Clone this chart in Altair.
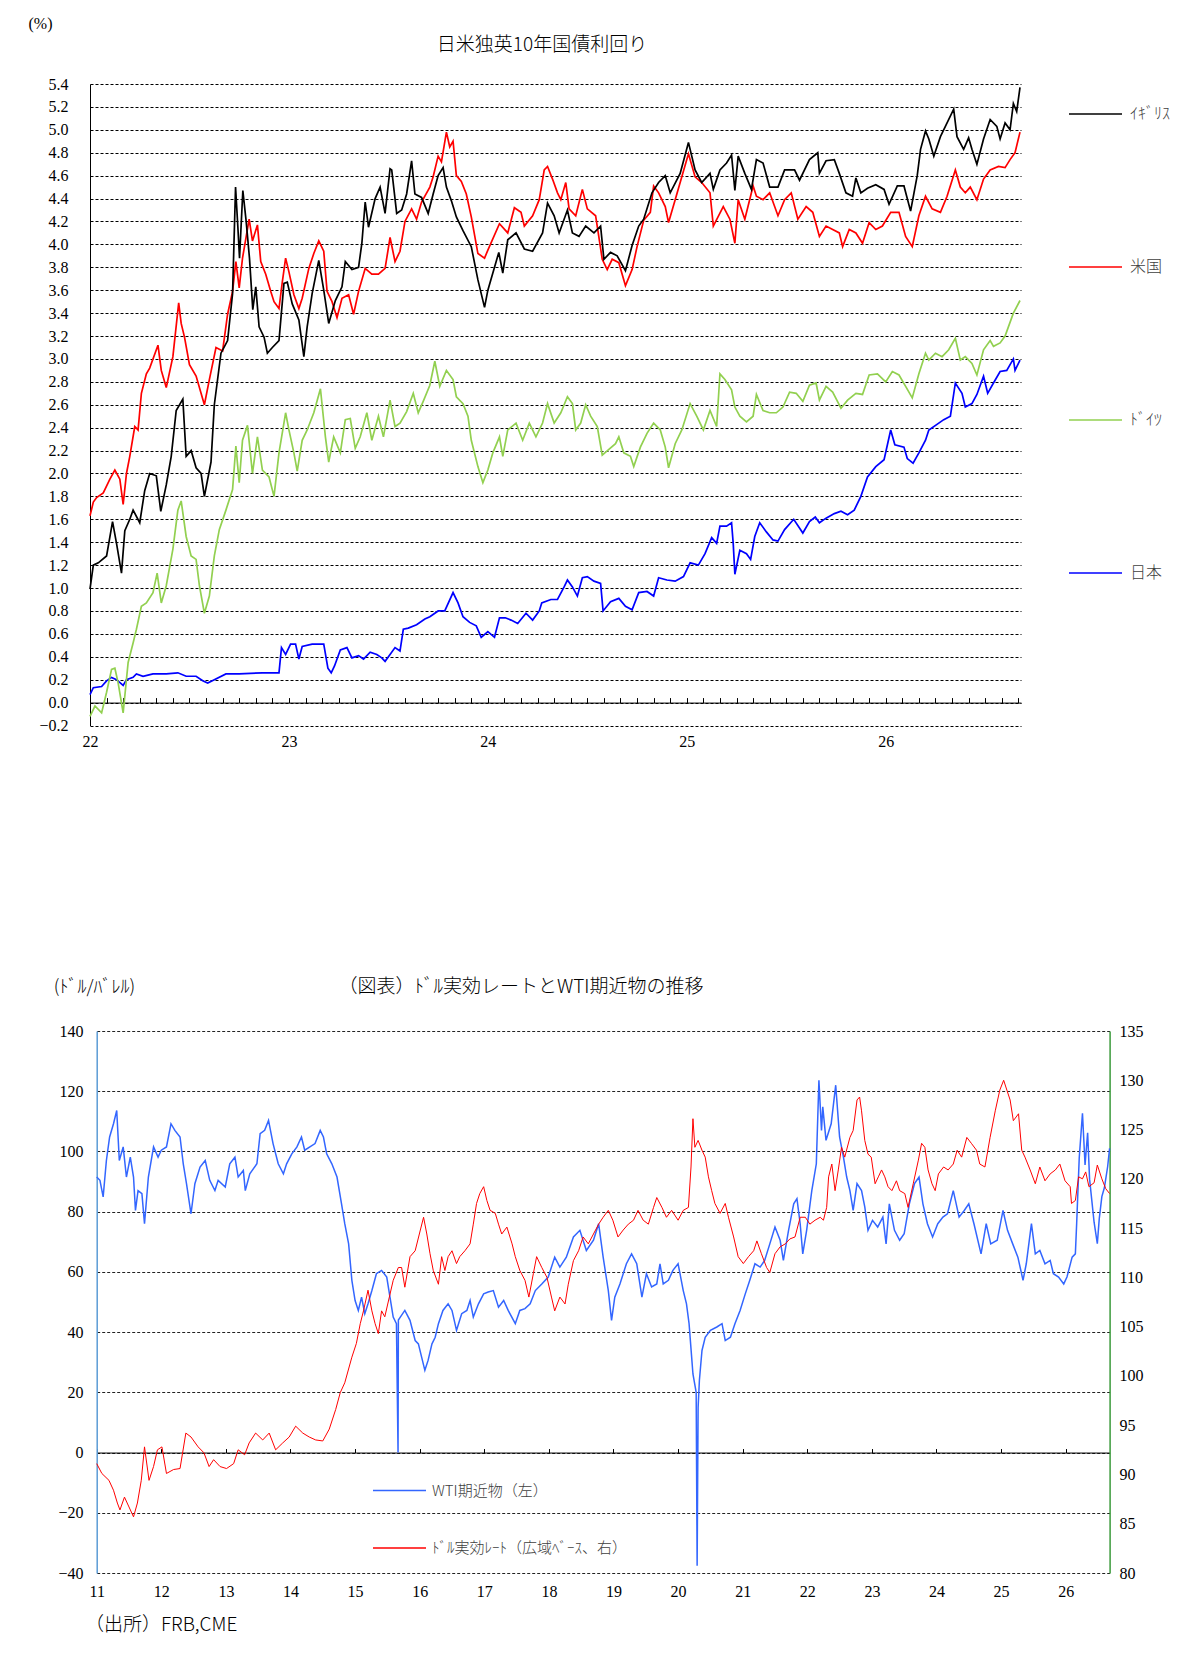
import altair as alt
import pandas as pd

# 10年国債利回り (%): (months since Jan-2022, yield)
uk = [(0.0, 0.99), (0.2, 1.2), (0.5, 1.22), (1.0, 1.28), (1.36, 1.58), (1.6, 1.39), (1.9, 1.13), (2.1, 1.5),
      (2.4, 1.6), (2.6, 1.68), (3.0, 1.57), (3.3, 1.85), (3.6, 2.0), (4.0, 1.98), (4.27, 1.67), (4.6, 1.9),
      (4.9, 2.15), (5.2, 2.55), (5.6, 2.65), (5.8, 2.15), (6.1, 2.2), (6.4, 2.05), (6.7, 2.0), (6.9, 1.8),
      (7.3, 2.1), (7.5, 2.6), (7.9, 3.05), (8.3, 3.16), (8.6, 3.57), (8.78, 4.5), (8.92, 4.15), (9.02, 3.88),
      (9.22, 4.47), (9.42, 4.2), (9.62, 3.88), (9.82, 3.43), (10.0, 3.63), (10.2, 3.28), (10.5, 3.19),
      (10.7, 3.05), (11.0, 3.1), (11.4, 3.16), (11.7, 3.66), (11.9, 3.67), (12.2, 3.48), (12.6, 3.34),
      (12.9, 3.02), (13.1, 3.28), (13.4, 3.57), (13.8, 3.86), (14.1, 3.6), (14.4, 3.31), (14.8, 3.51),
      (15.2, 3.63), (15.4, 3.85), (15.8, 3.78), (16.2, 3.8), (16.4, 4.01), (16.6, 4.37), (16.8, 4.15),
      (17.2, 4.4), (17.5, 4.5), (17.8, 4.27), (18.1, 4.66), (18.2, 4.65), (18.5, 4.27), (18.8, 4.3),
      (19.1, 4.44), (19.4, 4.73), (19.6, 4.44), (20.0, 4.41), (20.4, 4.27), (20.7, 4.44), (21.0, 4.6),
      (21.3, 4.67), (21.5, 4.5), (21.8, 4.38), (22.1, 4.24), (22.5, 4.12), (23.0, 3.98), (23.4, 3.69),
      (23.8, 3.45), (24.0, 3.6), (24.66, 3.93), (24.9, 3.75), (25.2, 4.04), (25.7, 4.1), (26.2, 3.96),
      (26.7, 3.94), (27.3, 4.1), (27.6, 4.36), (28.0, 4.25), (28.3, 4.1), (28.8, 4.3), (29.1, 4.1),
      (29.5, 4.07), (29.9, 4.16), (30.4, 4.1), (30.8, 4.16), (31.0, 3.87), (31.4, 3.93), (31.8, 3.9),
      (32.3, 3.77), (32.7, 3.99), (33.1, 4.16), (33.4, 4.22), (33.9, 4.45), (34.3, 4.54), (34.7, 4.6),
      (35.0, 4.45), (35.6, 4.62), (36.1, 4.89), (36.5, 4.65), (36.9, 4.54), (37.4, 4.62), (37.6, 4.48),
      (38.0, 4.65), (38.4, 4.71), (38.7, 4.78), (38.9, 4.47), (39.1, 4.77), (39.5, 4.62), (39.9, 4.48),
      (40.2, 4.74), (40.6, 4.71), (41.0, 4.5), (41.5, 4.5), (41.9, 4.65), (42.5, 4.65), (42.8, 4.56),
      (43.4, 4.74), (43.9, 4.8), (44.0, 4.62), (44.4, 4.73), (44.9, 4.74), (45.2, 4.62), (45.6, 4.45),
      (46.0, 4.42), (46.2, 4.58), (46.5, 4.45), (46.9, 4.49), (47.4, 4.52), (47.9, 4.48), (48.2, 4.35),
      (48.7, 4.51), (49.1, 4.51), (49.5, 4.29), (49.9, 4.6), (50.1, 4.83), (50.4, 4.99), (50.6, 4.92),
      (50.9, 4.77), (51.3, 4.94), (51.7, 5.06), (52.1, 5.18), (52.3, 4.94), (52.7, 4.83), (53.0, 4.93),
      (53.2, 4.83), (53.5, 4.7), (53.9, 4.92), (54.3, 5.09), (54.7, 5.03), (54.9, 4.92), (55.2, 5.06),
      (55.5, 5.0), (55.7, 5.23), (55.9, 5.16), (56.1, 5.37)]

us = [(0.0, 1.63), (0.2, 1.75), (0.4, 1.79), (0.8, 1.83), (1.2, 1.95), (1.5, 2.03), (1.8, 1.95), (2.0, 1.73),
      (2.2, 2.0), (2.4, 2.15), (2.7, 2.41), (2.9, 2.38), (3.1, 2.7), (3.4, 2.87), (3.6, 2.92), (4.1, 3.12),
      (4.3, 2.9), (4.6, 2.75), (5.0, 3.02), (5.35, 3.49), (5.5, 3.31), (5.7, 3.19), (6.0, 2.95), (6.4, 2.85),
      (6.9, 2.6), (7.2, 2.82), (7.6, 3.1), (8.0, 3.07), (8.3, 3.39), (8.6, 3.59), (8.8, 3.85), (9.0, 3.62),
      (9.2, 3.88), (9.6, 4.22), (9.8, 4.03), (10.1, 4.17), (10.3, 3.85), (10.6, 3.74), (10.9, 3.59),
      (11.1, 3.5), (11.4, 3.44), (11.6, 3.67), (11.8, 3.88), (12.0, 3.76), (12.3, 3.56), (12.6, 3.44),
      (12.8, 3.53), (13.2, 3.79), (13.5, 3.92), (13.8, 4.03), (14.1, 3.94), (14.3, 3.59), (14.6, 3.5),
      (14.9, 3.36), (15.2, 3.53), (15.6, 3.56), (15.9, 3.39), (16.2, 3.59), (16.6, 3.79), (17.0, 3.74),
      (17.4, 3.74), (17.8, 3.79), (18.1, 4.06), (18.4, 3.85), (18.7, 3.94), (19.0, 4.2), (19.4, 4.31),
      (19.7, 4.22), (20.0, 4.37), (20.5, 4.5), (20.7, 4.59), (21.0, 4.77), (21.2, 4.72), (21.5, 4.98),
      (21.7, 4.85), (21.9, 4.9), (22.1, 4.6), (22.4, 4.55), (22.7, 4.44), (23.0, 4.24), (23.4, 3.92),
      (23.8, 3.88), (24.0, 3.95), (24.7, 4.18), (25.2, 4.1), (25.6, 4.32), (26.0, 4.28), (26.2, 4.16),
      (26.7, 4.25), (27.1, 4.39), (27.4, 4.65), (27.6, 4.68), (27.9, 4.57), (28.2, 4.45), (28.4, 4.39),
      (28.7, 4.54), (28.9, 4.31), (29.3, 4.25), (29.7, 4.48), (30.0, 4.31), (30.5, 4.25), (30.9, 3.87),
      (31.2, 3.78), (31.5, 3.87), (31.9, 3.84), (32.3, 3.64), (32.7, 3.78), (33.0, 3.98), (33.4, 4.21),
      (33.8, 4.28), (34.0, 4.51), (34.3, 4.45), (34.7, 4.33), (34.9, 4.19), (35.3, 4.39), (35.7, 4.59),
      (36.1, 4.79), (36.5, 4.59), (36.9, 4.54), (37.4, 4.45), (37.6, 4.16), (38.2, 4.33), (38.6, 4.22),
      (38.9, 4.01), (39.1, 4.39), (39.5, 4.22), (40.0, 4.51), (40.2, 4.42), (40.6, 4.39), (41.0, 4.45),
      (41.5, 4.25), (41.9, 4.39), (42.3, 4.45), (42.7, 4.22), (43.2, 4.33), (43.6, 4.28), (44.0, 4.07),
      (44.4, 4.16), (44.8, 4.13), (45.2, 4.1), (45.4, 3.98), (45.8, 4.13), (46.2, 4.1), (46.6, 4.01),
      (47.0, 4.19), (47.4, 4.13), (47.8, 4.16), (48.3, 4.28), (48.8, 4.28), (49.2, 4.07), (49.6, 3.98),
      (50.0, 4.25), (50.4, 4.42), (50.8, 4.31), (51.3, 4.28), (51.7, 4.42), (52.2, 4.65), (52.5, 4.5),
      (52.8, 4.45), (53.1, 4.5), (53.5, 4.39), (53.9, 4.57), (54.3, 4.65), (54.8, 4.68), (55.2, 4.67),
      (55.5, 4.74), (55.8, 4.8), (56.1, 4.98)]

de = [(0.0, -0.12), (0.3, -0.03), (0.7, -0.09), (1.0, 0.09), (1.3, 0.29), (1.5, 0.3), (1.7, 0.17), (2.0, -0.09),
      (2.3, 0.35), (2.6, 0.52), (2.8, 0.64), (3.1, 0.84), (3.4, 0.87), (3.8, 0.96), (4.05, 1.13), (4.3, 0.87),
      (4.6, 1.02), (5.0, 1.34), (5.3, 1.68), (5.5, 1.76), (5.8, 1.45), (6.1, 1.28), (6.4, 1.25), (6.6, 1.02),
      (6.9, 0.78), (7.2, 0.93), (7.5, 1.28), (7.8, 1.51), (8.2, 1.68), (8.6, 1.86), (8.8, 2.24), (9.0, 1.92),
      (9.2, 2.29), (9.5, 2.42), (9.8, 2.0), (10.1, 2.32), (10.4, 2.03), (10.8, 1.97), (11.1, 1.8), (11.4, 2.18),
      (11.8, 2.53), (12.0, 2.38), (12.3, 2.18), (12.5, 2.02), (12.8, 2.29), (13.1, 2.38), (13.5, 2.53),
      (13.9, 2.74), (14.2, 2.32), (14.4, 2.1), (14.7, 2.32), (15.1, 2.18), (15.4, 2.47), (15.7, 2.48),
      (16.0, 2.22), (16.3, 2.32), (16.7, 2.53), (17.0, 2.29), (17.4, 2.5), (17.7, 2.32), (18.1, 2.64),
      (18.4, 2.41), (18.7, 2.44), (19.1, 2.54), (19.5, 2.7), (19.8, 2.53), (20.1, 2.63), (20.5, 2.77),
      (20.8, 2.98), (21.1, 2.76), (21.5, 2.9), (21.9, 2.82), (22.1, 2.67), (22.5, 2.61), (22.8, 2.5),
      (23.0, 2.29), (23.4, 2.06), (23.7, 1.92), (24.0, 2.03), (24.3, 2.18), (24.7, 2.32), (24.9, 2.15),
      (25.2, 2.38), (25.7, 2.44), (26.1, 2.29), (26.5, 2.44), (26.9, 2.32), (27.3, 2.44), (27.6, 2.61),
      (28.0, 2.44), (28.4, 2.53), (28.8, 2.67), (29.1, 2.61), (29.3, 2.38), (29.6, 2.44), (29.9, 2.6),
      (30.2, 2.5), (30.6, 2.41), (30.9, 2.16), (31.3, 2.21), (31.7, 2.26), (31.9, 2.32), (32.2, 2.18),
      (32.6, 2.15), (32.8, 2.06), (33.2, 2.23), (33.6, 2.35), (34.0, 2.44), (34.4, 2.38), (34.7, 2.23),
      (34.9, 2.05), (35.3, 2.26), (35.7, 2.38), (36.2, 2.61), (36.6, 2.5), (37.0, 2.38), (37.4, 2.55),
      (37.8, 2.41), (38.0, 2.87), (38.3, 2.82), (38.7, 2.73), (38.9, 2.58), (39.2, 2.5), (39.6, 2.45),
      (40.0, 2.5), (40.2, 2.69), (40.6, 2.55), (41.0, 2.53), (41.4, 2.53), (41.8, 2.58), (42.2, 2.71),
      (42.6, 2.7), (43.0, 2.63), (43.4, 2.77), (43.8, 2.79), (44.0, 2.64), (44.4, 2.76), (44.8, 2.71),
      (45.3, 2.57), (45.7, 2.64), (46.2, 2.7), (46.6, 2.69), (47.0, 2.86), (47.5, 2.87), (48.0, 2.8),
      (48.4, 2.89), (48.8, 2.86), (49.2, 2.76), (49.6, 2.66), (50.0, 2.87), (50.4, 3.05), (50.6, 2.99),
      (51.0, 3.05), (51.4, 3.02), (51.8, 3.08), (52.2, 3.18), (52.5, 2.99), (52.8, 3.02), (53.2, 2.96),
      (53.5, 2.86), (53.9, 3.08), (54.3, 3.16), (54.5, 3.11), (54.9, 3.14), (55.2, 3.2), (55.4, 3.28),
      (55.7, 3.4), (56.1, 3.51)]

jp = [(0.0, 0.07), (0.2, 0.13), (0.7, 0.14), (1.0, 0.19), (1.3, 0.22), (1.6, 0.2), (2.0, 0.15), (2.2, 0.2),
      (2.6, 0.22), (2.8, 0.25), (3.2, 0.23), (3.8, 0.25), (4.6, 0.25), (5.3, 0.26), (5.8, 0.23), (6.4, 0.23),
      (6.8, 0.19), (7.1, 0.17), (7.5, 0.2), (8.2, 0.25), (9.0, 0.25), (10.4, 0.26), (11.4, 0.26), (11.55, 0.48),
      (11.8, 0.42), (12.1, 0.51), (12.4, 0.51), (12.6, 0.38), (12.8, 0.49), (13.4, 0.51), (14.1, 0.51),
      (14.35, 0.3), (14.55, 0.26), (14.75, 0.32), (15.1, 0.46), (15.5, 0.48), (15.8, 0.39), (16.2, 0.41),
      (16.5, 0.38), (16.9, 0.44), (17.3, 0.42), (17.6, 0.39), (17.8, 0.36), (18.1, 0.42), (18.4, 0.48),
      (18.7, 0.45), (18.9, 0.64), (19.2, 0.65), (19.7, 0.68), (20.2, 0.73), (20.5, 0.75), (21.0, 0.8),
      (21.4, 0.8), (21.9, 0.96), (22.2, 0.87), (22.5, 0.75), (22.9, 0.7), (23.3, 0.67), (23.6, 0.57),
      (24.0, 0.62), (24.4, 0.57), (24.7, 0.74), (25.05, 0.74), (25.4, 0.72), (25.8, 0.69), (26.3, 0.78),
      (26.7, 0.72), (27.1, 0.8), (27.25, 0.87), (27.8, 0.9), (28.2, 0.9), (28.6, 1.01), (28.8, 1.07),
      (29.1, 1.01), (29.4, 0.93), (29.7, 1.09), (30.0, 1.1), (30.4, 1.06), (30.8, 1.04), (30.95, 0.8),
      (31.4, 0.88), (31.9, 0.91), (32.3, 0.84), (32.7, 0.81), (33.1, 0.96), (33.6, 0.97), (34.0, 0.93),
      (34.3, 1.09), (34.8, 1.07), (35.3, 1.06), (35.8, 1.1), (36.2, 1.22), (36.7, 1.2), (37.1, 1.3),
      (37.5, 1.44), (37.8, 1.39), (38.0, 1.54), (38.4, 1.54), (38.7, 1.57), (38.8, 1.39), (38.9, 1.12),
      (39.2, 1.33), (39.6, 1.3), (39.85, 1.25), (40.1, 1.45), (40.4, 1.57), (40.8, 1.49), (41.2, 1.42),
      (41.5, 1.41), (41.9, 1.51), (42.45, 1.6), (43.0, 1.48), (43.4, 1.58), (43.75, 1.62), (44.0, 1.57),
      (44.4, 1.61), (44.9, 1.65), (45.3, 1.67), (45.7, 1.64), (46.1, 1.68), (46.5, 1.8), (46.9, 1.97),
      (47.4, 2.06), (47.9, 2.12), (48.3, 2.38), (48.55, 2.25), (49.1, 2.23), (49.3, 2.13), (49.65, 2.09),
      (50.0, 2.18), (50.4, 2.29), (50.6, 2.38), (51.2, 2.44), (51.5, 2.47), (51.9, 2.5), (52.2, 2.79),
      (52.6, 2.7), (52.8, 2.58), (53.2, 2.61), (53.5, 2.69), (53.9, 2.85), (54.15, 2.7), (54.5, 2.79),
      (54.9, 2.89), (55.3, 2.9), (55.7, 3.0), (55.8, 2.9), (56.1, 2.99)]

# WTI期近物 ($/bbl): (year, price)
wti = [(2011.0, 91.5), (2011.05, 90.4), (2011.1, 84.9), (2011.15, 97), (2011.2, 104.8), (2011.26, 109.2),
       (2011.31, 113.6), (2011.35, 97), (2011.41, 101.5), (2011.46, 91.5), (2011.52, 98.1), (2011.57, 91.5),
       (2011.6, 80.4), (2011.64, 87), (2011.7, 86), (2011.74, 76), (2011.8, 91.5), (2011.88, 101.5),
       (2011.95, 98.1), (2012.0, 100.4), (2012.08, 101.5), (2012.15, 109.2), (2012.21, 107), (2012.29, 104.8),
       (2012.34, 95.9), (2012.39, 89.3), (2012.46, 79.3), (2012.52, 89.3), (2012.6, 94.8), (2012.68, 97),
       (2012.75, 90.4), (2012.83, 87), (2012.88, 90.4), (2012.99, 88.2), (2013.06, 95.9), (2013.14, 98.1),
       (2013.19, 91.5), (2013.27, 93.7), (2013.3, 87), (2013.37, 92.6), (2013.48, 95.9), (2013.53, 105.9),
       (2013.6, 107), (2013.66, 110.3), (2013.73, 102.6), (2013.81, 95.9), (2013.89, 92.6), (2013.94, 95.9),
       (2014.02, 99.2), (2014.1, 101.5), (2014.17, 104.8), (2014.22, 100.4), (2014.3, 101.5), (2014.38, 102.6),
       (2014.46, 107), (2014.51, 104.8), (2014.56, 99.2), (2014.64, 95.9), (2014.72, 91.5), (2014.79, 82.6),
       (2014.84, 76), (2014.9, 69.3), (2014.95, 57.2), (2015.0, 50.5), (2015.05, 47.2), (2015.1, 51.6),
       (2015.15, 46.1), (2015.2, 49.4), (2015.26, 53.8), (2015.33, 59.4), (2015.41, 60.5), (2015.49, 58.3),
       (2015.54, 51.6), (2015.59, 45), (2015.64, 42.8), (2015.665, 0), (2015.67, 44), (2015.7, 45),
       (2015.77, 47.2), (2015.85, 43.9), (2015.93, 37.2), (2015.98, 36.1), (2016.03, 31.7), (2016.08, 27.3),
       (2016.13, 30.6), (2016.19, 36.1), (2016.24, 38.3), (2016.29, 42.8), (2016.36, 47.2), (2016.44, 49.4),
       (2016.5, 47.2), (2016.57, 40.6), (2016.65, 46.1), (2016.73, 47.2), (2016.78, 50.5), (2016.83, 45),
       (2016.91, 49.4), (2016.99, 52.7), (2017.06, 53.3), (2017.14, 53.8), (2017.22, 48.3), (2017.3, 50.5),
       (2017.37, 47.2), (2017.48, 42.8), (2017.55, 47.2), (2017.63, 47.8), (2017.71, 49.4), (2017.79, 53.8),
       (2017.89, 56), (2017.99, 58.3), (2018.09, 64.9), (2018.17, 61.6), (2018.27, 64.9), (2018.38, 71.6),
       (2018.48, 73.8), (2018.58, 67.1), (2018.69, 70.5), (2018.77, 76), (2018.84, 64.9), (2018.92, 53.8),
       (2018.97, 43.9), (2019.02, 51.6), (2019.1, 56), (2019.2, 62.7), (2019.28, 66), (2019.36, 62.7),
       (2019.44, 51.6), (2019.51, 59.4), (2019.59, 55), (2019.67, 56), (2019.72, 62.7), (2019.77, 56),
       (2019.85, 57.2), (2019.92, 60.5), (2020.0, 62.7), (2020.08, 53.8), (2020.13, 49.4), (2020.17, 42.8),
       (2020.21, 31.7), (2020.23, 26.1), (2020.28, 20), (2020.295, -37.6), (2020.31, 15), (2020.33, 24),
       (2020.37, 33.9), (2020.42, 38.3), (2020.5, 40.6), (2020.6, 41.7), (2020.68, 42.8), (2020.73, 37.2),
       (2020.81, 38.3), (2020.88, 42.8), (2020.96, 47.2), (2021.04, 52.7), (2021.11, 57.2), (2021.19, 62.7),
       (2021.27, 61.6), (2021.34, 63.8), (2021.42, 69.3), (2021.5, 74.9), (2021.58, 70.5), (2021.63, 63.8),
       (2021.71, 73.8), (2021.79, 82.6), (2021.84, 84.3), (2021.89, 76), (2021.93, 66), (2021.99, 73.8),
       (2022.07, 87), (2022.14, 95.9), (2022.18, 123.6), (2022.22, 107), (2022.24, 114.8), (2022.29, 103.7),
       (2022.37, 109.2), (2022.44, 122), (2022.5, 104.8), (2022.56, 98.1), (2022.61, 91.5), (2022.66, 87),
       (2022.71, 80.4), (2022.77, 89.3), (2022.84, 87), (2022.89, 81.6), (2022.94, 73.8), (2023.01, 77.1),
       (2023.09, 74.9), (2023.17, 78.2), (2023.22, 69.3), (2023.27, 82.6), (2023.35, 73.8), (2023.43, 70.5),
       (2023.5, 72.7), (2023.58, 82.6), (2023.66, 89.3), (2023.73, 91.5), (2023.79, 82.6), (2023.86, 76),
       (2023.94, 71.6), (2024.02, 76), (2024.1, 78.2), (2024.17, 79.3), (2024.26, 87), (2024.35, 78.2),
       (2024.43, 80.4), (2024.5, 82.6), (2024.58, 76), (2024.69, 66), (2024.77, 76), (2024.84, 69.3),
       (2024.94, 70.5), (2025.03, 80.4), (2025.1, 73.8), (2025.18, 69.3), (2025.26, 64.9), (2025.34, 57.2),
       (2025.39, 62.7), (2025.47, 76), (2025.53, 66), (2025.6, 67.1), (2025.68, 62.7), (2025.76, 63.8),
       (2025.81, 59.4), (2025.89, 58.3), (2025.97, 56), (2026.02, 58.3), (2026.1, 64.9), (2026.15, 66),
       (2026.17, 76), (2026.21, 97.9), (2026.26, 112.7), (2026.3, 95.5), (2026.34, 106.2), (2026.37, 90.8),
       (2026.44, 76.5), (2026.49, 69.4), (2026.52, 77.7), (2026.56, 85), (2026.6, 88), (2026.65, 95),
       (2026.68, 101)]

# ドル実効レート (広域ベース): (year, index)
usd = [(2011.0, 91.1), (2011.08, 90.1), (2011.19, 89.4), (2011.26, 88.4), (2011.32, 87.1), (2011.36, 86.4),
       (2011.43, 87.7), (2011.5, 86.7), (2011.57, 85.7), (2011.63, 87.1), (2011.69, 89.4), (2011.74, 92.8),
       (2011.81, 89.4), (2011.88, 90.8), (2011.94, 92.5), (2012.01, 92.8), (2012.08, 90.1), (2012.19, 90.5),
       (2012.29, 90.6), (2012.38, 94.2), (2012.46, 93.8), (2012.57, 92.8), (2012.66, 92.2), (2012.74, 90.8),
       (2012.81, 91.5), (2012.91, 90.8), (2013.01, 90.6), (2013.12, 91.1), (2013.19, 92.5), (2013.29, 92),
       (2013.36, 93.2), (2013.46, 94.2), (2013.57, 93.5), (2013.67, 94.2), (2013.77, 92.5), (2013.88, 93.2),
       (2013.98, 93.8), (2014.08, 94.9), (2014.19, 94.2), (2014.29, 93.8), (2014.39, 93.5), (2014.5, 93.4),
       (2014.6, 94.6), (2014.7, 96.6), (2014.77, 98.3), (2014.84, 99.3), (2014.95, 101.9), (2015.02, 103.3),
       (2015.08, 105.3), (2015.13, 106.6), (2015.2, 108.7), (2015.26, 106.6), (2015.31, 105.3), (2015.36, 104.3),
       (2015.41, 106.6), (2015.46, 106), (2015.53, 108), (2015.59, 109.7), (2015.67, 111), (2015.72, 111),
       (2015.77, 109), (2015.85, 112.1), (2015.93, 112.7), (2016.01, 114.8), (2016.06, 116.1), (2016.11, 114.4),
       (2016.16, 112.4), (2016.21, 110.7), (2016.29, 109.3), (2016.34, 112.1), (2016.39, 110.7), (2016.44, 112.1),
       (2016.5, 112.7), (2016.57, 111.4), (2016.62, 112.1), (2016.7, 112.7), (2016.78, 113.4), (2016.83, 115.4),
       (2016.88, 117.5), (2016.93, 118.5), (2016.99, 119.2), (2017.04, 117.8), (2017.09, 116.8), (2017.17, 116.5),
       (2017.22, 115.4), (2017.27, 114.4), (2017.35, 115.1), (2017.43, 113.4), (2017.48, 112.1), (2017.55, 110.7),
       (2017.63, 109.7), (2017.69, 108), (2017.76, 110.4), (2017.81, 112.1), (2017.89, 111), (2017.97, 110),
       (2018.04, 108), (2018.09, 106.6), (2018.17, 108), (2018.25, 107.3), (2018.3, 109.3), (2018.38, 111.7),
       (2018.46, 112.7), (2018.53, 114.1), (2018.61, 113.4), (2018.69, 114.4), (2018.77, 115.4), (2018.84, 116.1),
       (2018.92, 116.8), (2018.99, 115.8), (2019.07, 114.1), (2019.15, 114.8), (2019.23, 115.4), (2019.31, 115.8),
       (2019.38, 116.8), (2019.46, 115.8), (2019.54, 115.4), (2019.62, 117.1), (2019.67, 118.1), (2019.75, 117.1),
       (2019.82, 116.1), (2019.9, 116.8), (2020.0, 115.8), (2020.08, 116.8), (2020.16, 117.1), (2020.2, 121.2),
       (2020.23, 126.1), (2020.26, 123.2), (2020.31, 123.9), (2020.37, 122.9), (2020.42, 122.2), (2020.47, 120.2),
       (2020.52, 118.8), (2020.57, 117.5), (2020.65, 116.5), (2020.73, 117.5), (2020.78, 116.1), (2020.86, 114.1),
       (2020.93, 112.1), (2021.01, 111.4), (2021.09, 112.1), (2021.17, 112.7), (2021.22, 113.7), (2021.29, 112.4),
       (2021.37, 111), (2021.42, 110.5), (2021.5, 112.4), (2021.58, 113.1), (2021.66, 113.4), (2021.73, 113.9),
       (2021.81, 114.1), (2021.89, 116.1), (2021.97, 116.1), (2022.04, 115.4), (2022.12, 115.8), (2022.2, 116.1),
       (2022.25, 115.8), (2022.3, 117.1), (2022.33, 120.2), (2022.38, 121.5), (2022.43, 118.8), (2022.48, 120.9),
       (2022.53, 123.2), (2022.58, 122.2), (2022.66, 124.2), (2022.71, 124.9), (2022.77, 128), (2022.81, 128.3),
       (2022.84, 126.9), (2022.89, 123.9), (2022.94, 122.5), (2022.99, 122.2), (2023.05, 119.5), (2023.1, 120.2),
       (2023.15, 120.9), (2023.2, 120.2), (2023.25, 119.2), (2023.31, 118.8), (2023.38, 119.8), (2023.43, 118.8),
       (2023.51, 118.5), (2023.56, 117.1), (2023.64, 119.5), (2023.72, 121.9), (2023.77, 123.6), (2023.82, 123.2),
       (2023.87, 120.9), (2023.93, 119.5), (2023.98, 118.8), (2024.03, 120.5), (2024.11, 121.2), (2024.18, 120.9),
       (2024.26, 121.5), (2024.32, 122.9), (2024.39, 122.2), (2024.47, 124.2), (2024.54, 123.6), (2024.62, 122.9),
       (2024.67, 121.5), (2024.75, 121.2), (2024.83, 124.2), (2024.91, 126.9), (2024.98, 129), (2025.04, 130),
       (2025.09, 129), (2025.14, 128), (2025.19, 125.9), (2025.27, 126.6), (2025.32, 122.9), (2025.37, 122.2),
       (2025.45, 120.9), (2025.53, 119.5), (2025.6, 121.2), (2025.68, 119.8), (2025.76, 120.5), (2025.84, 120.9),
       (2025.91, 121.5), (2025.99, 119.8), (2026.07, 119.2), (2026.09, 117.5), (2026.15, 117.8), (2026.2, 120.2),
       (2026.26, 120), (2026.31, 120.7), (2026.36, 119.2), (2026.44, 119.6), (2026.49, 121.4), (2026.56, 120),
       (2026.62, 119), (2026.68, 118.5)]

bond_names = ["ｲｷﾞﾘｽ", "米国", "ﾄﾞｲﾂ", "日本"]
bond_colors = ["#000000", "#ff0000", "#92d050", "#0000ff"]
wti_name = "WTI期近物（左）"
usd_name = "ﾄﾞﾙ実効ﾚｰﾄ（広域ﾍﾞｰｽ、右）"

W, H = 1165, 1650
NUM = "Liberation Serif"
JP = "Noto Sans CJK JP"

rows = []
for name, series in reversed(list(zip(bond_names, [uk, us, de, jp]))):
    for m, v in series:
        rows.append({"name": name, "t": 2022 + m / 12, "v": v})
bonds = pd.DataFrame(rows)

oil_df = pd.DataFrame({"t": [p[0] for p in wti], "v": [p[1] for p in wti], "name": wti_name})
usd_df = pd.DataFrame({"t": [p[0] for p in usd], "v": [p[1] for p in usd], "name": usd_name})

# --- upper panel: 10y yields ---
top_x = alt.Scale(domain=[2022, 2026.68], range=[82, 1013], nice=False, zero=False)
top_y = alt.Scale(domain=[-0.2, 5.4], range=[717.5, 76], nice=False, zero=False)
top_zero = 717.5 - 0.2 * (717.5 - 76) / 5.6
month_ticks = [2022 + k / 12 for k in range(57)]
yield_ticks = [round(-0.2 + 0.2 * k, 1) for k in range(29)]

top = alt.Chart(bonds).mark_line().encode(
    x=alt.X("t:Q", scale=top_x, axis=alt.Axis(
        orient="bottom", offset=717.5 - H, values=[2022, 2023, 2024, 2025, 2026],
        labelExpr="substring(toString(datum.value), 2, 4)", domain=False, ticks=False, tickSize=0,
        grid=False, labelPadding=8, labelFlush=False, labelOverlap=False,
        labelFont=NUM, labelFontSize=16, labelColor="#000", title=None)),
    y=alt.Y("v:Q", scale=top_y, axis=alt.Axis(
        orient="left", offset=-82, values=yield_ticks, format=".1f",
        grid=True, gridColor="#000", gridDash=[3, 2], gridWidth=1, gridOpacity=1,
        domainColor="#000", domainWidth=1, ticks=False, tickSize=0, labelPadding=22,
        labelFont=NUM, labelFontSize=16, labelColor="#000", labelFlush=False, labelOverlap=False,
        title="(%)", titleAngle=0, titleX=-50, titleY=15, titleAlign="center", titleBaseline="middle",
        titleFont=NUM, titleFontSize=16, titleFontWeight="normal", titleColor="#000")),
    color=alt.Color("name:N", scale=alt.Scale(domain=bond_names, range=bond_colors), legend=alt.Legend(
        orient="none", legendX=1060, legendY=78.5, title=None, symbolType="stroke", symbolSize=2809,
        symbolStrokeWidth=1.5, rowPadding=117, labelOffset=7, padding=0,
        labelFont=JP, labelFontSize=16, labelFontWeight=300, labelColor="#404040", labelLimit=300)),
    strokeWidth=alt.StrokeWidth("name:N", scale=alt.Scale(domain=bond_names, range=[1.7, 1.7, 1.4, 1.2]),
                                legend=None),
)

top_zero_axis = alt.Chart(bonds).mark_point(opacity=0).encode(
    x=alt.X("t:Q", scale=top_x, axis=alt.Axis(
        orient="top", offset=-top_zero, values=month_ticks, labels=False, tickSize=5,
        tickColor="#000", domainColor="#000", domainWidth=1, grid=False, title=None)),
    y=alt.Y("v:Q", scale=top_y, axis=None),
)

# --- lower panel: WTI and dollar ---
bot_x = alt.Scale(domain=[2011, 2026.68], range=[88.7, 1101.6], nice=False, zero=False)
left_y = alt.Scale(domain=[-40, 140], range=[1565, 1023], nice=False, zero=False)
right_y = alt.Scale(domain=[80, 135], range=[1565, 1023], nice=False, zero=False)
bot_zero = 1565 - 40 * (1565 - 1023) / 180
years = list(range(2011, 2027))

oil = alt.Chart(oil_df).mark_line(strokeWidth=1.5).encode(
    x=alt.X("t:Q", scale=bot_x, axis=alt.Axis(
        orient="bottom", offset=1565 - H, values=years,
        labelExpr="substring(toString(datum.value), 2, 4)", domain=False, ticks=False, tickSize=0,
        grid=False, labelPadding=10, labelFlush=False, labelOverlap=False,
        labelFont=NUM, labelFontSize=16, labelColor="#000", title=None)),
    y=alt.Y("v:Q", scale=left_y, axis=alt.Axis(
        orient="left", offset=-88.7, values=list(range(-40, 141, 20)), format="d",
        grid=True, gridColor="#222", gridDash=[3, 2], gridWidth=1, gridOpacity=1,
        domainColor="#5b9bd5", domainWidth=1.5, ticks=False, tickSize=0, labelPadding=13.7,
        labelFont=NUM, labelFontSize=16, labelColor="#000", labelFlush=False, labelOverlap=False,
        title="(ﾄﾞﾙ/ﾊﾞﾚﾙ)", titleAngle=0, titleX=-2.7, titleY=979, titleAlign="center",
        titleBaseline="middle", titleFont=JP, titleFontSize=18, titleFontWeight=300, titleColor="#000")),
    color=alt.Color("name:N", scale=alt.Scale(domain=[wti_name], range=["#3366ff"]), legend=alt.Legend(
        orient="none", legendX=364, legendY=1455, title=None, symbolType="stroke", symbolSize=2809,
        symbolStrokeWidth=1.5, labelOffset=5, padding=0,
        labelFont=JP, labelFontSize=15, labelFontWeight=300, labelColor="#404040", labelLimit=400)),
)

dollar = alt.Chart(usd_df).mark_line(strokeWidth=1).encode(
    x=alt.X("t:Q", scale=bot_x, axis=alt.Axis(
        orient="top", offset=-bot_zero, values=years, labels=False, tickSize=4,
        tickColor="#000", domainColor="#000", domainWidth=1, grid=False, title=None)),
    y=alt.Y("v:Q", scale=right_y, axis=alt.Axis(
        orient="right", offset=1101.6 - W, values=list(range(80, 136, 5)), format="d",
        grid=False, domainColor="#3c9a3c", domainWidth=1.5, ticks=False, tickSize=0, labelPadding=9.4,
        labelFont=NUM, labelFontSize=16, labelColor="#000", labelFlush=False, labelOverlap=False,
        title=None)),
    color=alt.Color("name:N", scale=alt.Scale(domain=[usd_name], range=["#ff0000"]), legend=alt.Legend(
        orient="none", legendX=364, legendY=1512.5, title=None, symbolType="stroke", symbolSize=2809,
        symbolStrokeWidth=1.5, labelOffset=5, padding=0,
        labelFont=JP, labelFontSize=15, labelFontWeight=300, labelColor="#404040", labelLimit=400)),
)


def label(text, x, y, size, align="center"):
    return alt.Chart(pd.DataFrame({"s": [text]})).mark_text(
        align=align, baseline="middle", font=JP, fontSize=size, fontWeight=300, color="#000"
    ).encode(x=alt.value(x), y=alt.value(y), text="s:N")


chart = alt.layer(
    top_zero_axis, top, oil, dollar,
    label("日米独英10年国債利回り", 534, 37, 19),
    label("（図表）ﾄﾞﾙ実効レートとWTI期近物の推移", 513, 979, 19),
    label("（出所）FRB,CME", 77, 1617, 19, align="left"),
).resolve_scale(
    x="independent", y="independent", color="independent", strokeWidth="independent"
).properties(
    width=W, height=H, autosize=alt.AutoSizeParams(type="none"), padding=0
).configure_view(stroke=None)

chart.save("out.html", embed_options={"renderer": "svg", "actions": False})
